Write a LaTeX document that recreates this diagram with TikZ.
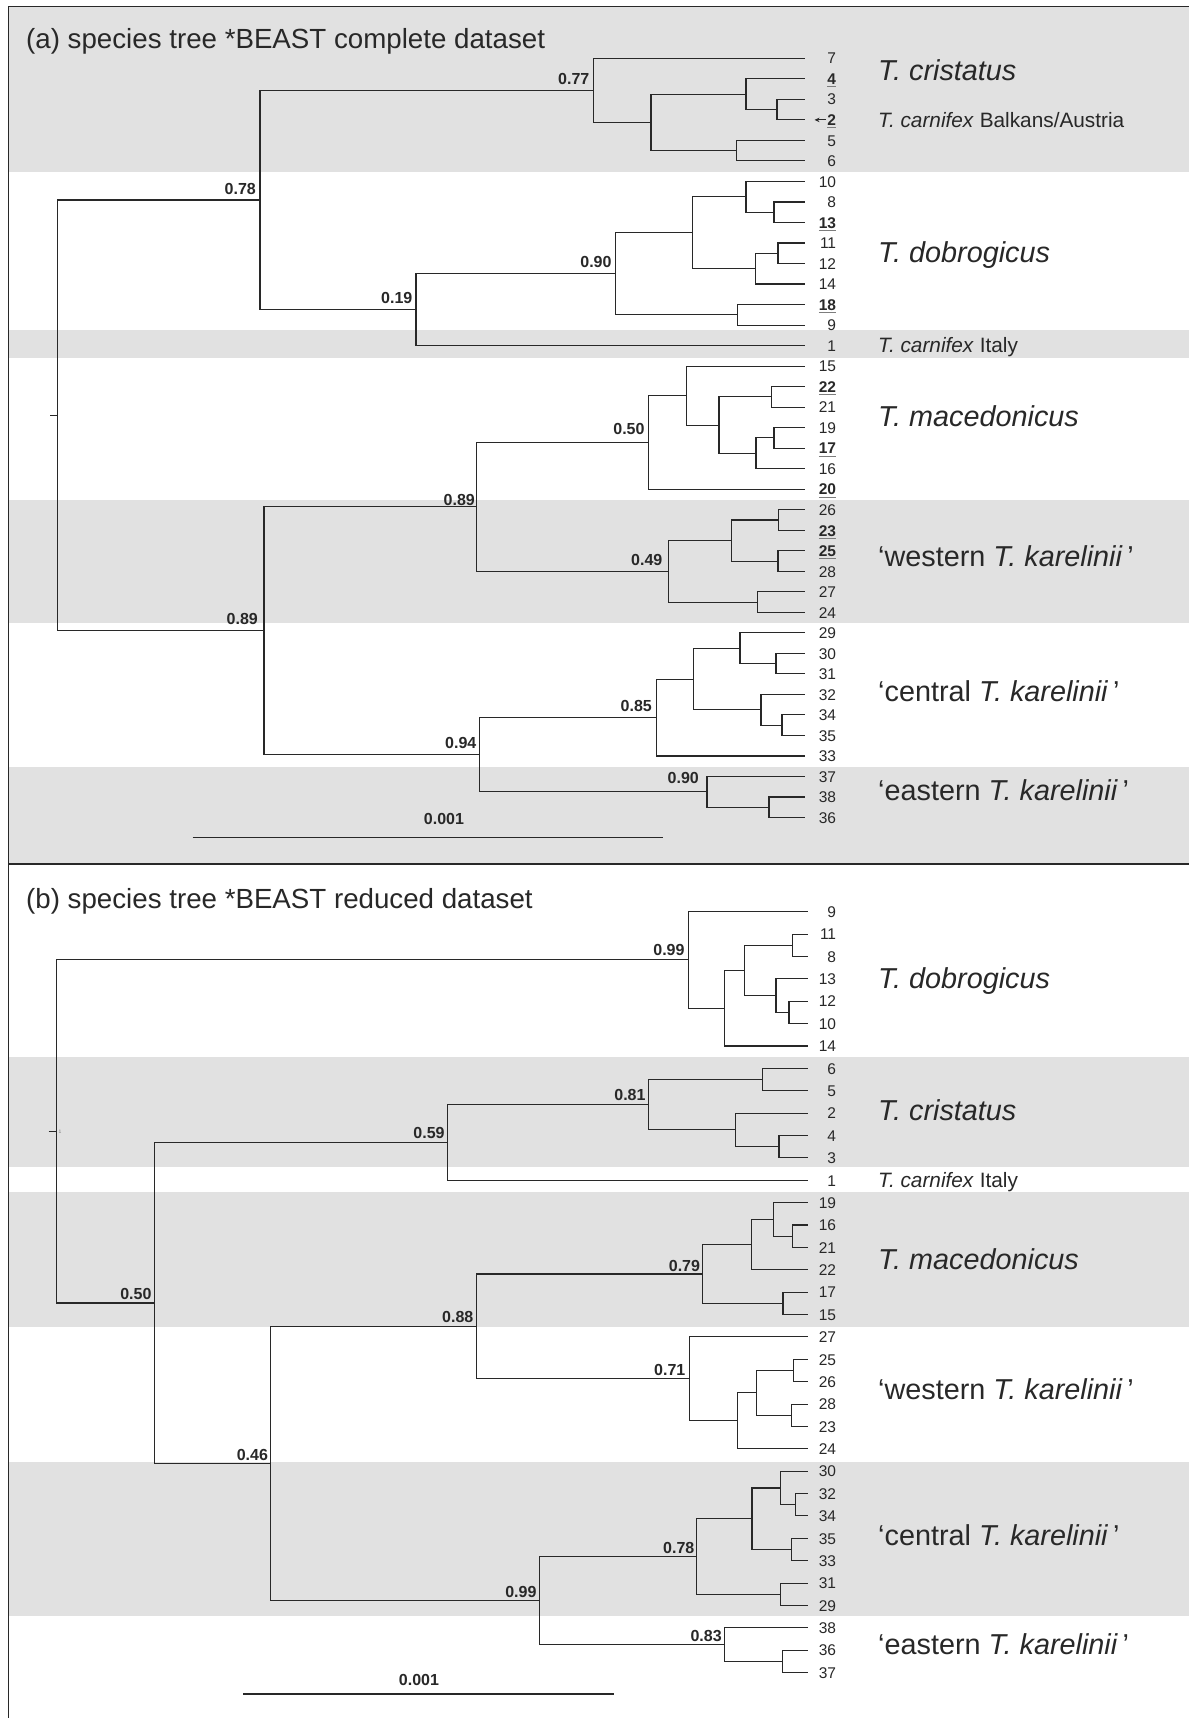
\documentclass[tikz,border=0pt]{standalone}
\usepackage{fontspec}
\setmainfont{Liberation Sans}
\usetikzlibrary{calc,arrows.meta}
\definecolor{band}{RGB}{225,225,225}
\definecolor{ink}{RGB}{40,40,40}
\definecolor{ulgray}{RGB}{125,125,125}
\newcommand\ulnum[1]{\setbox0=\hbox{\bfseries #1}\rlap{\color{ulgray}\rule[-2.6pt]{\wd0}{0.9pt}}\box0}
\newcommand\leaf[4]{\coordinate (#1) at (#2,#3); \node[num] (t#1) at (836.3,{#3+5.7}) {#4};}
\newcommand\kids[2]{\foreach \c in {#2}{\draw[tree] (#1) |- (\c);}}
\begin{document}
\begin{tikzpicture}[x=1pt,y=-1pt,
  tree/.style={draw=ink,line width=1.05pt},
  num/.style={anchor=base east,inner sep=0pt,text=ink,font=\fontsize{15.5}{18}\selectfont},
  pa/.style={anchor=base east,inner sep=0pt,text=ink,font=\fontsize{16}{18}\selectfont\bfseries},
  sp/.style={anchor=base west,inner sep=0pt,text=ink,font=\fontsize{28.8}{32}\selectfont},
  spsmall/.style={anchor=base west,inner sep=0pt,text=ink,font=\fontsize{20.8}{24}\selectfont},
  ttl/.style={anchor=base west,inner sep=0pt,text=ink,font=\fontsize{27.7}{32}\selectfont},
  frameline/.style={draw=ink,line width=1.3pt}]
\useasboundingbox (0,0) rectangle (1189,1718);
\fill[white] (0,0) rectangle (1189,1718);
% grey bands
\fill[band] (8.4,6.7) rectangle (1189,171.7);
\fill[band] (8.4,330) rectangle (1189,358);
\fill[band] (8.4,500) rectangle (1189,622.7);
\fill[band] (8.4,766.7) rectangle (1189,864);
\fill[band] (8.4,1056.7) rectangle (1189,1167.3);
\fill[band] (8.4,1191.7) rectangle (1189,1326.7);
\fill[band] (8.4,1461.7) rectangle (1189,1616);
% frame
\draw[frameline] (8.4,1718) -- (8.4,6.7) -- (1189,6.7);
\draw[frameline] (8.4,864) -- (1189,864);
% titles
\node[ttl] (ta) at (26,48.3) {(a) species tree *BEAST complete dataset};
\node[ttl] (tb) at (26,908.3) {(b) species tree *BEAST reduced dataset};

% ================= panel (a) leaves
\leaf{a7}{805}{58.3}{7}
\leaf{a4}{805}{78.8}{\ulnum{4}}
\leaf{a3}{805}{99.3}{3}
\leaf{a2}{805}{119.9}{\ulnum{2}}
\leaf{a5}{805}{140.4}{5}
\leaf{a6}{805}{160.9}{6}
\leaf{a10}{805}{181.4}{10}
\leaf{a8}{805}{202.0}{8}
\leaf{a13}{805}{222.5}{\ulnum{13}}
\leaf{a11}{805}{243.0}{11}
\leaf{a12}{805}{263.5}{12}
\leaf{a14}{805}{284.0}{14}
\leaf{a18}{805}{304.5}{\ulnum{18}}
\leaf{a9}{805}{325.1}{9}
\leaf{a1}{805}{345.6}{1}
\leaf{a15}{805}{366.1}{15}
\leaf{a22}{805}{386.6}{\ulnum{22}}
\leaf{a21}{805}{407.1}{21}
\leaf{a19}{805}{427.7}{19}
\leaf{a17}{805}{448.2}{\ulnum{17}}
\leaf{a16}{805}{468.7}{16}
\leaf{a20}{805}{489.2}{\ulnum{20}}
\leaf{a26}{805}{509.7}{26}
\leaf{a23}{805}{530.3}{\ulnum{23}}
\leaf{a25}{805}{550.8}{\ulnum{25}}
\leaf{a28}{805}{571.3}{28}
\leaf{a27}{805}{591.8}{27}
\leaf{a24}{805}{612.3}{24}
\leaf{a29}{805}{632.9}{29}
\leaf{a30}{805}{653.4}{30}
\leaf{a31}{805}{673.9}{31}
\leaf{a32}{805}{694.4}{32}
\leaf{a34}{805}{714.9}{34}
\leaf{a35}{805}{735.5}{35}
\leaf{a33}{805}{756.0}{33}
\leaf{a37}{805}{776.5}{37}
\leaf{a38}{805}{797.0}{38}
\leaf{a36}{805}{817.5}{36}
% panel (a) internal nodes
\coordinate (aD) at (777,109.6);
\coordinate (aC) at (746,94.2);
\coordinate (aE) at (736.5,150.65);
\coordinate (aB) at (651,122.4);
\coordinate (a077) at (593.5,90.35);
\coordinate (aH) at (774,212.25);
\coordinate (aG) at (746,196.8);
\coordinate (aJ) at (778,253.25);
\coordinate (aI) at (755.5,268.6);
\coordinate (aF) at (692.6,232.7);
\coordinate (aK) at (737.3,314.8);
\coordinate (a090) at (615.7,273.75);
\coordinate (a019) at (416,309.7);
\coordinate (a078) at (260,200);
\coordinate (aM3) at (771.5,396.85);
\coordinate (aM5) at (774,437.95);
\coordinate (aM4) at (756,453.3);
\coordinate (aM2) at (719,425.1);
\coordinate (aM1) at (686.8,395.6);
\coordinate (a050) at (648.7,442.4);
\coordinate (aW2) at (778.8,520);
\coordinate (aW3) at (778,561.05);
\coordinate (aW1) at (731.5,540.5);
\coordinate (aW4) at (757.5,602.05);
\coordinate (a049) at (668.5,571.3);
\coordinate (a089u) at (476.5,506.85);
\coordinate (aC3) at (776,663.65);
\coordinate (aC2) at (740,648.3);
\coordinate (aC5) at (782,725.2);
\coordinate (aC4) at (761,709.8);
\coordinate (aC1) at (693.8,679.05);
\coordinate (a085) at (656.5,717.5);
\coordinate (aE1) at (769,807.25);
\coordinate (a090e) at (707,791.9);
\coordinate (a094) at (479.5,754.7);
\coordinate (a089l) at (264,630.8);
\coordinate (aroot) at (57.4,415.4);
\coordinate (aroott) at (50,415.4);
% panel (a) branches
\kids{aD}{a3,a2}
\kids{aC}{a4,aD}
\kids{aE}{a5,a6}
\kids{aB}{aC,aE}
\kids{a077}{a7,aB}
\kids{aH}{a8,a13}
\kids{aG}{a10,aH}
\kids{aJ}{a11,a12}
\kids{aI}{aJ,a14}
\kids{aF}{aG,aI}
\kids{aK}{a18,a9}
\kids{a090}{aF,aK}
\kids{a019}{a090,a1}
\kids{a078}{a077,a019}
\kids{aM3}{a22,a21}
\kids{aM5}{a19,a17}
\kids{aM4}{aM5,a16}
\kids{aM2}{aM3,aM4}
\kids{aM1}{a15,aM2}
\kids{a050}{aM1,a20}
\kids{aW2}{a26,a23}
\kids{aW3}{a25,a28}
\kids{aW1}{aW2,aW3}
\kids{aW4}{a27,a24}
\kids{a049}{aW1,aW4}
\kids{a089u}{a050,a049}
\kids{aC3}{a30,a31}
\kids{aC2}{a29,aC3}
\kids{aC5}{a34,a35}
\kids{aC4}{a32,aC5}
\kids{aC1}{aC2,aC4}
\kids{a085}{aC1,a33}
\kids{aE1}{a38,a36}
\kids{a090e}{a37,aE1}
\kids{a094}{a085,a090e}
\kids{a089l}{a089u,a094}
\kids{aroot}{a078,a089l}
\draw[tree] (aroott) -- (aroot);
% panel (a) support values
\node[pa] (la077) at ($(a077)+(-4,-6)$) {0.77};
\node[pa] (la078) at ($(a078)+(-4,-6)$) {0.78};
\node[pa] (la019) at ($(a019)+(-3.5,-6)$) {0.19};
\node[pa] (la090) at ($(a090)+(-4,-6)$) {0.90};
\node[pa] (la050) at ($(a050)+(-4,-8)$) {0.50};
\node[pa] (la089u) at ($(a089u)+(-1.5,-1)$) {0.89};
\node[pa] (la049) at ($(a049)+(-6,-6)$) {0.49};
\node[pa] (la089l) at ($(a089l)+(-6,-6)$) {0.89};
\node[pa] (la085) at ($(a085)+(-4.5,-6)$) {0.85};
\node[pa] (la094) at ($(a094)+(-3,-6)$) {0.94};
\node[pa] (la090e) at ($(a090e)+(-8,-8)$) {0.90};
% arrow to 2
\coordinate (arrS) at (825.5,119.9);
\coordinate (arrE) at (814.5,119.9);
\draw[draw=ink,line width=0.9pt,-{Stealth[length=5pt,width=4.5pt]}] (arrS) -- (arrE);
% scale bar (a)
\coordinate (sa1) at (192.5,837.3);
\coordinate (sa2) at (662.7,837.3);
\draw[tree] (sa1) -- (sa2);
\node[pa,anchor=base] (lsa) at (444,824.8) {0.001};
% species labels (a)
\node[sp] (spa1) at (878,80.5) {\textit{T. cristatus}};
\node[spsmall] (spa2) at (878,127.4) {\textit{T. carnifex} Balkans/Austria};
\node[sp] (spa3) at (878,262) {\textit{T. dobrogicus}};
\node[spsmall] (spa4) at (878,352) {\textit{T. carnifex} Italy};
\node[sp] (spa5) at (878,426) {\textit{T. macedonicus}};
\node[sp] (spa6) at (878,566.7) {‘western \textit{T. karelinii}\,’};
\node[sp] (spa7) at (878,701.7) {‘central \textit{T. karelinii}\,’};
\node[sp] (spa8) at (878,800) {‘eastern \textit{T. karelinii}\,’};

% ================= panel (b) leaves
\leaf{b9}{808.4}{911.7}{9}
\leaf{b11}{808.4}{934.1}{11}
\leaf{b8}{808.4}{956.5}{8}
\leaf{b13}{808.4}{978.8}{13}
\leaf{b12}{808.4}{1001.2}{12}
\leaf{b10}{808.4}{1023.6}{10}
\leaf{b14}{808.4}{1046.0}{14}
\leaf{b6}{808.4}{1068.4}{6}
\leaf{b5}{808.4}{1090.7}{5}
\leaf{b2}{808.4}{1113.1}{2}
\leaf{b4}{808.4}{1135.5}{4}
\leaf{b3}{808.4}{1157.9}{3}
\leaf{b1}{808.4}{1180.3}{1}
\leaf{b19}{808.4}{1202.6}{19}
\leaf{b16}{808.4}{1225.0}{16}
\leaf{b21}{808.4}{1247.4}{21}
\leaf{b22}{808.4}{1269.8}{22}
\leaf{b17}{808.4}{1292.2}{17}
\leaf{b15}{808.4}{1314.5}{15}
\leaf{b27}{808.4}{1336.9}{27}
\leaf{b25}{808.4}{1359.3}{25}
\leaf{b26}{808.4}{1381.7}{26}
\leaf{b28}{808.4}{1404.1}{28}
\leaf{b23}{808.4}{1426.4}{23}
\leaf{b24}{808.4}{1448.8}{24}
\leaf{b30}{808.4}{1471.2}{30}
\leaf{b32}{808.4}{1493.6}{32}
\leaf{b34}{808.4}{1515.9}{34}
\leaf{b35}{808.4}{1538.3}{35}
\leaf{b33}{808.4}{1560.7}{33}
\leaf{b31}{808.4}{1583.1}{31}
\leaf{b29}{808.4}{1605.5}{29}
\leaf{b38}{808.4}{1627.9}{38}
\leaf{b36}{808.4}{1650.2}{36}
\leaf{b37}{808.4}{1672.6}{37}
% panel (b) internal nodes
\coordinate (bD3) at (792.8,945.3);
\coordinate (bD5) at (789,1012.4);
\coordinate (bD4) at (776,995.6);
\coordinate (bD2) at (744.3,970.45);
\coordinate (bD1) at (724.9,1008.2);
\coordinate (b099) at (688.7,959.95);
\coordinate (bCr1) at (762.5,1079.55);
\coordinate (bCr3) at (779,1146.7);
\coordinate (bCr2) at (735.3,1129.9);
\coordinate (b081) at (648.7,1104.7);
\coordinate (b059) at (447.8,1142.5);
\coordinate (bMa3) at (792.8,1236.2);
\coordinate (bMa2) at (773.4,1219.4);
\coordinate (bMa1) at (751.6,1244.6);
\coordinate (bMa4) at (783,1303.35);
\coordinate (b079) at (702.7,1274);
\coordinate (bW3) at (793.6,1370.5);
\coordinate (bW4) at (791.7,1415.25);
\coordinate (bW2) at (756.7,1392.9);
\coordinate (bW1) at (737.3,1420.85);
\coordinate (b071) at (689.5,1378.9);
\coordinate (b088) at (476.5,1326.45);
\coordinate (bC3) at (795.5,1504.75);
\coordinate (bC2) at (780.8,1488);
\coordinate (bC4) at (791.7,1549.5);
\coordinate (bC1) at (752,1518.75);
\coordinate (bC5) at (780.8,1594.3);
\coordinate (b078) at (696.5,1556.5);
\coordinate (bE1) at (782.7,1661.4);
\coordinate (b083) at (724.9,1644.65);
\coordinate (b099l) at (539.6,1600.6);
\coordinate (b046) at (270.6,1463.5);
\coordinate (b050) at (154.6,1303);
\coordinate (broot) at (56.6,1131.5);
\coordinate (broott) at (48.5,1131.5);
% panel (b) branches
\kids{bD3}{b11,b8}
\kids{bD5}{b12,b10}
\kids{bD4}{b13,bD5}
\kids{bD2}{bD3,bD4}
\kids{bD1}{bD2,b14}
\kids{b099}{b9,bD1}
\kids{bCr1}{b6,b5}
\kids{bCr3}{b4,b3}
\kids{bCr2}{b2,bCr3}
\kids{b081}{bCr1,bCr2}
\kids{b059}{b081,b1}
\kids{bMa3}{b16,b21}
\kids{bMa2}{b19,bMa3}
\kids{bMa1}{bMa2,b22}
\kids{bMa4}{b17,b15}
\kids{b079}{bMa1,bMa4}
\kids{bW3}{b25,b26}
\kids{bW4}{b28,b23}
\kids{bW2}{bW3,bW4}
\kids{bW1}{bW2,b24}
\kids{b071}{b27,bW1}
\kids{b088}{b079,b071}
\kids{bC3}{b32,b34}
\kids{bC2}{b30,bC3}
\kids{bC4}{b35,b33}
\kids{bC1}{bC2,bC4}
\kids{bC5}{b31,b29}
\kids{b078}{bC1,bC5}
\kids{bE1}{b36,b37}
\kids{b083}{b38,bE1}
\kids{b099l}{b078,b083}
\kids{b046}{b088,b099l}
\kids{b050}{b059,b046}
\kids{broot}{b099,b050}
\draw[tree] (broott) -- (broot);
\node[anchor=west,inner sep=0pt,text=ulgray,font=\fontsize{5}{6}\selectfont] (bone) at (58.5,1131.5) {1};
% panel (b) support values
\node[pa] (lb099) at ($(b099)+(-4,-4)$) {0.99};
\node[pa] (lb081) at ($(b081)+(-3,-4)$) {0.81};
\node[pa] (lb059) at ($(b059)+(-3,-4)$) {0.59};
\node[pa] (lb050) at ($(b050)+(-3,-4)$) {0.50};
\node[pa] (lb079) at ($(b079)+(-2.5,-3)$) {0.79};
\node[pa] (lb088) at ($(b088)+(-3,-4)$) {0.88};
\node[pa] (lb046) at ($(b046)+(-2.5,-3.5)$) {0.46};
\node[pa] (lb071) at ($(b071)+(-4,-3.5)$) {0.71};
\node[pa] (lb078) at ($(b078)+(-2,-3.5)$) {0.78};
\node[pa] (lb099l) at ($(b099l)+(-3,-3.5)$) {0.99};
\node[pa] (lb083) at ($(b083)+(-3,-3.5)$) {0.83};
% scale bar (b)
\coordinate (sb1) at (243,1694);
\coordinate (sb2) at (614.2,1694);
\draw[tree] (sb1) -- (sb2);
\node[pa,anchor=base] (lsb) at (419,1685.8) {0.001};
% species labels (b)
\node[sp] (spb1) at (878,988.3) {\textit{T. dobrogicus}};
\node[sp] (spb2) at (878,1120.7) {\textit{T. cristatus}};
\node[spsmall] (spb3) at (878,1187.7) {\textit{T. carnifex} Italy};
\node[sp] (spb4) at (878,1269.3) {\textit{T. macedonicus}};
\node[sp] (spb5) at (878,1399.3) {‘western \textit{T. karelinii}\,’};
\node[sp] (spb6) at (878,1545.7) {‘central \textit{T. karelinii}\,’};
\node[sp] (spb7) at (878,1654.3) {‘eastern \textit{T. karelinii}\,’};
\end{tikzpicture}
\end{document}
